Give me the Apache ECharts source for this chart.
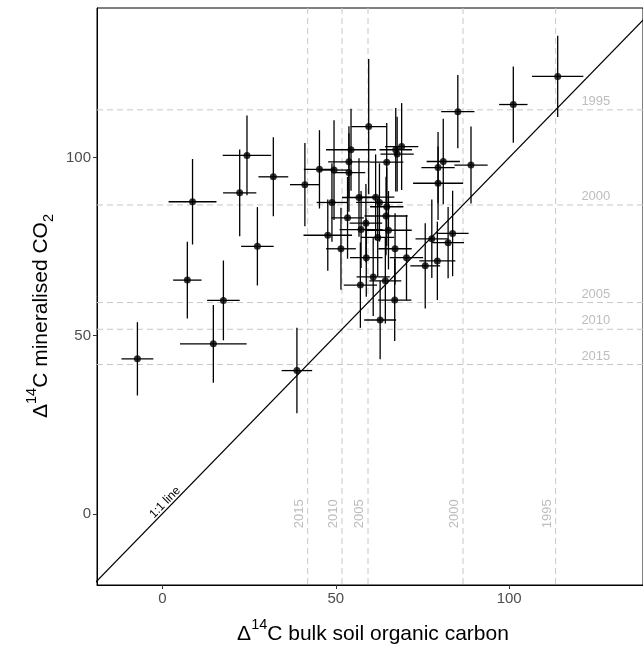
<!DOCTYPE html>
<html>
<head>
<meta charset="utf-8">
<script src="https://cdn.jsdelivr.net/npm/echarts@6/dist/echarts.min.js"></script>
<style>html,body{margin:0;padding:0;background:#fff;}#c{width:643px;height:646px;}</style>
</head>
<body>
<div id="c"></div>
<script>
// Δ14C of bulk soil organic carbon (x) and mineralised CO2 (y), with errors
const soilC14 = [-7.2, 7.2, 8.7, 17.6, 14.7, 22.3, 24.4, 32.0, 27.4, 38.8,
  41.1, 45.3, 49.5, 54.4, 53.8, 53.8, 59.5, 64.7, 67.3, 67.7, 69.0, 85.2, 81.0, 79.5, 79.5, 89.0,
  48.9, 56.7, 61.5, 62.6, 64.7, 53.4, 64.5, 58.7, 57.3, 65.2, 62.1, 47.7, 51.5, 67.1, 58.8, 70.4,
  77.7, 83.7, 82.4, 79.3, 75.8, 60.8, 64.3, 57.1, 67.0, 62.8, 101.2, 114.0];
const co2C14 = [43.5, 65.6, 87.6, 59.9, 47.7, 90.1, 100.6, 94.6, 75.1, 40.2,
  92.4, 96.7, 96.5, 102.2, 98.8, 95.8, 108.7, 98.7, 102.2, 101.0, 103.1, 112.9, 98.9, 97.2, 92.8, 97.9,
  87.4, 88.8, 88.9, 87.4, 86.2, 83.1, 83.6, 81.6, 79.8, 79.6, 77.6, 78.2, 74.4, 74.4, 71.9, 71.9,
  77.2, 78.7, 76.1, 71.0, 69.6, 66.5, 65.4, 64.2, 60.0, 54.4, 114.9, 122.8];
const soilErr = [4.6, 4.1, 6.9, 4.7, 9.6, 4.8, 7.0, 4.3, 4.7, 4.4,
  4.3, 4.5, 4.4, 7.2, 6.0, 4.7, 5.0, 4.8, 4.7, 4.8, 4.8, 4.8, 4.8, 4.8, 7.2, 4.8,
  4.4, 4.9, 5.4, 6.7, 4.8, 4.7, 6.2, 4.7, 6.2, 6.7, 4.8, 7.0, 4.3, 4.8, 4.7, 4.8,
  4.7, 4.6, 4.6, 5.2, 4.3, 4.8, 4.6, 4.8, 4.8, 4.6, 4.1, 7.4];
const co2Err = [10.3, 10.8, 12.0, 11.2, 10.9, 12.2, 11.2, 11.1, 11.0, 12.0,
  11.7, 11.0, 14.0, 11.5, 10.0, 11.0, 19.0, 11.0, 11.7, 10.5, 12.2, 10.3, 12.0, 10.0, 10.3, 10.8,
  11.0, 11.0, 12.0, 11.0, 11.0, 11.5, 11.0, 11.0, 10.8, 11.0, 11.0, 10.0, 11.5, 10.0, 11.0, 12.0,
  11.0, 12.0, 10.0, 11.0, 12.0, 11.0, 12.0, 12.0, 11.5, 11.0, 10.7, 11.4];
// atmospheric reference years and their Δ14C
const refYears = ['1995', '2000', '2005', '2010', '2015'];
const refValues = [113.4, 86.7, 59.3, 51.8, 41.9];
const tickValues = [0, 50, 100];
const xTitle = '{d|Δ}{sup|14}{d|C bulk soil organic carbon}';
const yTitle = '{d|Δ}{sup|14}{d|C mineralised CO}{sub|2}';
const xMin = -18.85, xMax = 138.6, yMin = -20.0, yMax = 142.0;

const points = soilC14.map((x, i) => [x, co2C14[i], soilErr[i], co2Err[i]]);
const FONT = '"Liberation Sans", Arial, sans-serif';
const refColor = '#c8c8c8';
const refLabelColor = '#bdbdbd';

const chart = echarts.init(document.getElementById('c'), null, {renderer: 'canvas'});
const titleRich = {
  d: {fontSize: 21, fontFamily: FONT, fill: '#000', lineHeight: 27, verticalAlign: 'bottom'},
  sup: {fontSize: 14.5, fontFamily: FONT, fill: '#000', lineHeight: 27, verticalAlign: 'top'},
  sub: {fontSize: 14.5, fontFamily: FONT, fill: '#000', lineHeight: 18, verticalAlign: 'bottom', padding: [0, 0, -5, 0]}
};
const axisCommon = {
  type: 'value',
  axisLine: {show: true, onZero: false, lineStyle: {color: '#000', width: 1}},
  axisTick: {show: true, length: 4, lineStyle: {color: '#333', width: 1}, customValues: tickValues},
  axisLabel: {color: '#4d4d4d', fontSize: 15, fontFamily: FONT, margin: 6, customValues: tickValues},
  splitLine: {show: false}
};

chart.setOption({
  animation: false,
  backgroundColor: '#fff',
  grid: {left: 97, right: 0, top: 8, bottom: 61, show: true, borderColor: '#000', borderWidth: 1, backgroundColor: 'transparent'},
  xAxis: Object.assign({}, axisCommon, {min: xMin, max: xMax}),
  yAxis: Object.assign({}, axisCommon, {min: yMin, max: yMax}),
  graphic: [
    {type: 'text', x: 373, y: 631, silent: true,
      style: {text: xTitle, rich: titleRich, align: 'center', verticalAlign: 'middle'}},
    {type: 'text', x: 38, y: 316, rotation: Math.PI / 2, silent: true,
      style: {text: yTitle, rich: titleRich, align: 'center', verticalAlign: 'middle'}}
  ],
  series: [
    {
      // reference dashed lines
      type: 'custom',
      silent: true,
      z: 1,
      data: refValues.map((v, i) => [v, i]),
      renderItem: function (params, api) {
        const v = api.value(0);
        const i = api.value(1);
        const tl = api.coord([xMin, yMax]);
        const br = api.coord([xMax, yMin]);
        const px = api.coord([v, v]);
        const hLab = api.coord([125, v]);
        const vLab = api.coord([v, 0]);
        const ls = {stroke: refColor, lineWidth: 1, lineDash: [6, 4]};
        return {
          type: 'group',
          children: [
            {type: 'line', shape: {x1: tl[0], y1: px[1], x2: br[0], y2: px[1]}, style: ls},
            {type: 'line', shape: {x1: px[0], y1: tl[1], x2: px[0], y2: br[1]}, style: ls},
            {type: 'text', x: hLab[0], y: px[1] - 2, style: {text: refYears[i], fill: refLabelColor, fontSize: 13, fontFamily: FONT, align: 'center', verticalAlign: 'bottom'}},
            {type: 'text', x: px[0] - 2, y: vLab[1], rotation: Math.PI / 2, style: {text: refYears[i], fill: refLabelColor, fontSize: 13, fontFamily: FONT, align: 'center', verticalAlign: 'bottom'}}
          ]
        };
      }
    },
    {
      // 1:1 line
      type: 'line',
      silent: true,
      z: 2,
      symbol: 'none',
      clip: true,
      lineStyle: {color: '#000', width: 1.2},
      data: [[xMin - 5, xMin - 5], [xMax + 5, xMax + 5]]
    },
    {
      // 1:1 label
      type: 'custom',
      silent: true,
      z: 3,
      data: [[2, 2]],
      renderItem: function (params, api) {
        const p = api.coord([api.value(0), api.value(1)]);
        const q = api.coord([api.value(0) + 10, api.value(1) + 10]);
        const ang = Math.atan2(p[1] - q[1], q[0] - p[0]);
        return {type: 'text', x: p[0], y: p[1], rotation: ang,
          style: {text: '1:1 line', fill: '#000', fontSize: 12, fontFamily: FONT, align: 'center', verticalAlign: 'bottom'}};
      }
    },
    {
      // error bars
      type: 'custom',
      silent: true,
      z: 4,
      data: points,
      renderItem: function (params, api) {
        const x = api.value(0), y = api.value(1), xe = api.value(2), ye = api.value(3);
        const l = api.coord([x - xe, y]), r = api.coord([x + xe, y]);
        const t = api.coord([x, y + ye]), b = api.coord([x, y - ye]);
        const st = {stroke: '#000', lineWidth: 1.3};
        return {type: 'group', children: [
          {type: 'line', shape: {x1: l[0], y1: l[1], x2: r[0], y2: r[1]}, style: st},
          {type: 'line', shape: {x1: t[0], y1: t[1], x2: b[0], y2: b[1]}, style: st}
        ]};
      }
    },
    {
      type: 'scatter',
      z: 5,
      symbol: 'circle',
      symbolSize: 7,
      itemStyle: {color: '#000'},
      data: points.map(p => [p[0], p[1]])
    }
  ]
});
</script>
</body>
</html>
